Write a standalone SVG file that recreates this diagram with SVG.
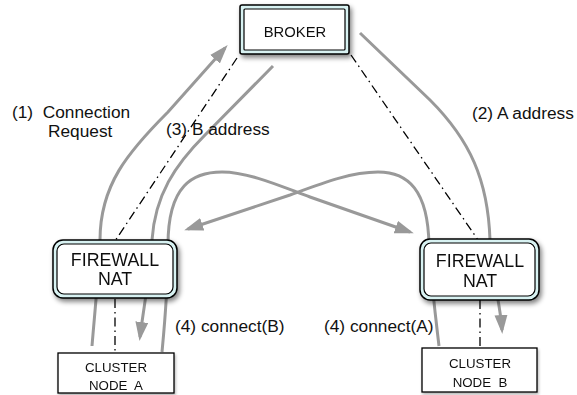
<svg xmlns="http://www.w3.org/2000/svg" width="577" height="395" viewBox="0 0 577 395">
<defs>
<filter id="sh" x="-20%" y="-20%" width="150%" height="160%">
<feGaussianBlur in="SourceAlpha" stdDeviation="2.5"/>
<feOffset dx="2" dy="3" result="b"/>
<feComponentTransfer><feFuncA type="linear" slope="0.5"/></feComponentTransfer>
<feMerge><feMergeNode/><feMergeNode in="SourceGraphic"/></feMerge>
</filter>
<filter id="sh2" x="-20%" y="-20%" width="150%" height="160%">
<feGaussianBlur in="SourceAlpha" stdDeviation="1.5"/>
<feOffset dx="1" dy="2" result="b"/>
<feComponentTransfer><feFuncA type="linear" slope="0.3"/></feComponentTransfer>
<feMerge><feMergeNode/><feMergeNode in="SourceGraphic"/></feMerge>
</filter>
<marker id="ah" markerUnits="userSpaceOnUse" markerWidth="20" markerHeight="14" refX="15" refY="6.5" orient="auto">
<path d="M0,0 L19,6.5 L0,13 z" fill="#999"/>
</marker>
</defs>
<style>
.g{fill:none;stroke:#999;stroke-width:3}
.d{fill:none;stroke:#000;stroke-width:1.3;stroke-dasharray:9 4 1.5 4}
.t{font-family:"Liberation Sans",Arial,sans-serif;fill:#111}
.lbl{font-size:17.3px}
.big{font-size:17.8px;text-anchor:middle}
.sm{font-size:13.3px;text-anchor:middle}
.outer{fill:#d8f2f2;stroke:#000;stroke-width:1.5}
.inner{fill:#fff;stroke:#000;stroke-width:1.2}
</style>
<g id="connectors">
<line class="d" x1="237" y1="58" x2="115" y2="241"/>
<line class="d" x1="115" y1="299" x2="115" y2="353"/>
<line class="d" x1="351" y1="55" x2="478" y2="240"/>
<line class="d" x1="480" y1="300" x2="480" y2="349"/>
<path class="g" marker-end="url(#ah)" d="M92,346 C95,310 99,270 100,240 C100,185 128,152 168,112 L225,48"/>
<path class="g" marker-end="url(#ah)" d="M360,33 L430,100 C470,140 488,180 490,240 C492,280 500,300 502,330"/>
<path class="g" marker-end="url(#ah)" d="M273,66 L205,135 C175,165 155,195 152,240 C150,275 144,305 140,337"/>
<path class="g" marker-end="url(#ah)" d="M162,352 C165,320 168,290 168,245 C168,185 193,172 222,172 C250,172 285,188 310,197 L410,232"/>
<path class="g" marker-end="url(#ah)" d="M439,346 C436,320 432,290 429,245 C428,190 408,172 378,172 C350,172 320,184 290,195 L188,229"/>
</g>
<g id="broker" filter="url(#sh)">
<rect class="outer" x="240" y="5" width="109" height="49" rx="2"/>
<rect class="inner" x="244" y="9" width="101" height="41" rx="1"/>
<text class="t" x="295" y="37" font-size="14.8" text-anchor="middle">BROKER</text>
</g>
<g id="firewall-a" filter="url(#sh)">
<rect class="outer" x="53" y="240" width="124" height="58" rx="10"/>
<rect class="inner" x="57" y="244" width="116" height="50" rx="7"/>
<text class="t big" x="115" y="266">FIREWALL</text>
<text class="t big" x="115" y="285">NAT</text>
</g>
<g id="firewall-b" filter="url(#sh)">
<rect class="outer" x="420" y="239" width="119" height="61" rx="10"/>
<rect class="inner" x="424" y="243" width="111" height="53" rx="7"/>
<text class="t big" x="480" y="267">FIREWALL</text>
<text class="t big" x="480" y="287">NAT</text>
</g>
<g id="cluster-a" filter="url(#sh2)">
<rect x="58" y="353" width="116" height="40" fill="#fff" stroke="#000" stroke-width="1.3"/>
<text class="t sm" x="116" y="372">CLUSTER</text>
<text class="t sm" x="116" y="390" xml:space="preserve">NODE  A</text>
</g>
<g id="cluster-b" filter="url(#sh2)">
<rect x="422" y="348" width="115" height="44" fill="#fff" stroke="#000" stroke-width="1.3"/>
<text class="t sm" x="480" y="368">CLUSTER</text>
<text class="t sm" x="480" y="387" xml:space="preserve">NODE  B</text>
</g>
<g id="labels">
<text class="t lbl" x="12" y="118" xml:space="preserve">(1)  Connection</text>
<text class="t lbl" x="48" y="137">Request</text>
<text class="t lbl" x="472" y="119">(2) A address</text>
<text class="t lbl" x="166" y="135">(3) B address</text>
<text class="t lbl" x="175" y="332">(4) connect(B)</text>
<text class="t lbl" x="324" y="332">(4) connect(A)</text>
</g>
</svg>
